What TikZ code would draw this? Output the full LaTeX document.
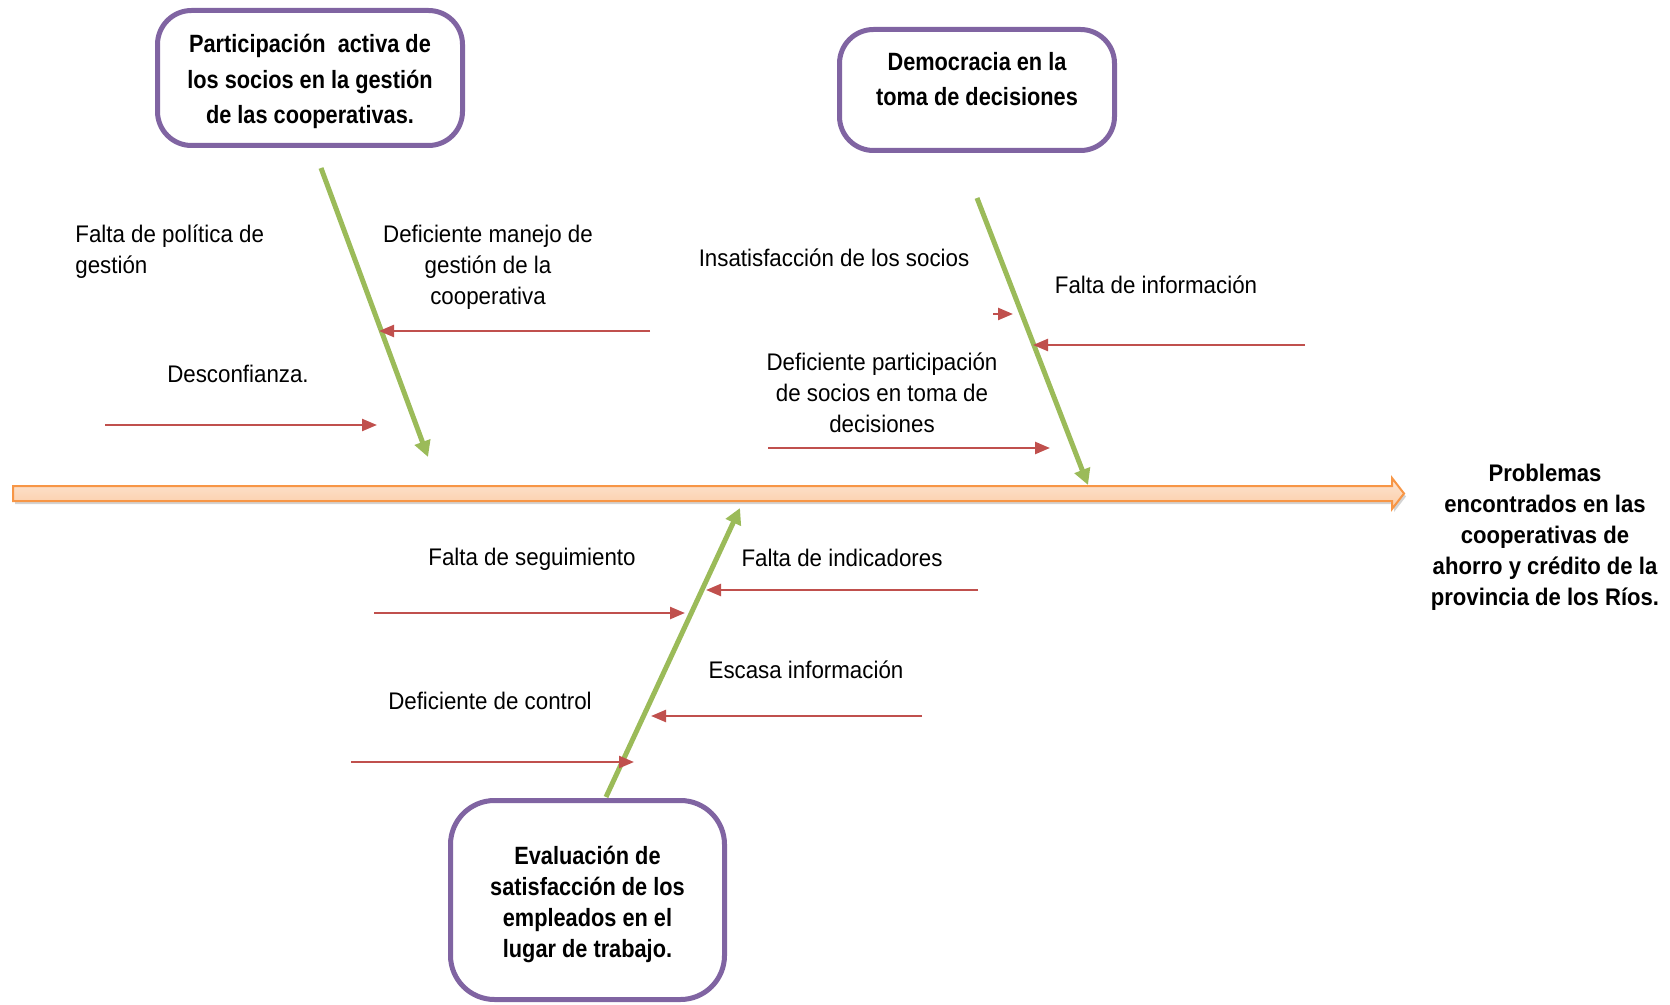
\documentclass[tikz,border=0pt]{standalone}
\usepackage{fontspec}
\setmainfont{Liberation Sans}
\newfontfamily\boxfont{Liberation Sans}[FakeStretch=0.87]
\newfontfamily\lblfont{Liberation Sans}[FakeStretch=0.93]
\newfontfamily\efffont{Liberation Sans}[FakeStretch=0.92]
\usetikzlibrary{arrows.meta,shadows}
\definecolor{bonegreen}{RGB}{155,187,89}
\definecolor{causered}{RGB}{192,80,77}
\definecolor{boxpurple}{RGB}{128,100,162}
\definecolor{spineorange}{RGB}{247,150,70}
\definecolor{spinetop}{RGB}{253,229,210}
\definecolor{spinebot}{RGB}{251,204,166}
\begin{document}
\begin{tikzpicture}[x=0.5pt,y=-0.5pt,
  catbox/.style={draw=boxpurple,line width=2.5pt,rounded corners=17pt,fill=white},
  cattext/.style={font=\boxfont\bfseries\fontsize{12.5}{17.75}\selectfont,align=center},
  cause/.style={font=\lblfont\fontsize{12}{15.5}\selectfont,align=center,inner sep=0pt},
  bone/.style={draw=bonegreen,line width=2.5pt,-{Triangle[length=8pt,width=8pt]}},
  arrowred/.style={draw=causered,line width=1.2pt,-{Triangle[length=7.5pt,width=6pt]}},
  spine/.style={draw=spineorange,line width=1pt,top color=spinetop,bottom color=spinebot,
    drop shadow={shadow xshift=1pt,shadow yshift=-1.5pt,opacity=0.35}}]
\useasboundingbox (0,0) rectangle (1670,1005);

\draw[spine] (13,486) -- (1392,486) -- (1392,478) -- (1404,493.5) -- (1392,509)
  -- (1392,501) -- (13,501) -- cycle;
\node[font=\efffont\bfseries\fontsize{12}{15.5}\selectfont,align=center] (efecto) at (1545,537)
  {Problemas\\encontrados en las\\cooperativas de\\ahorro y crédito de la\\provincia de los Ríos.};

\node[catbox,minimum width=152.5pt,minimum height=67.5pt] (partic) at (310,78) {};
\node[cattext] (partictxt) at (310,81.5)
  {Participación \ activa de\\los socios en la gestión\\de las cooperativas.};
\node[catbox,minimum width=137.5pt,minimum height=60.5pt] (democ) at (977,90) {};
\node[cattext] (democtxt) at (977,79) {Democracia en la\\toma de decisiones};
\node[catbox,rounded corners=22pt,minimum width=137pt,minimum height=99.5pt] (evalua) at (587.5,900) {};
\node[cattext,font=\boxfont\bfseries\fontsize{12.5}{15.5}\selectfont] (evaluatxt) at (587.5,904)
  {Evaluación de\\satisfacción de los\\empleados en el\\lugar de trabajo.};

\coordinate (b1s) at (321,168); \coordinate (b1e) at (428,457);
\coordinate (b2s) at (977,198); \coordinate (b2e) at (1088,485);
\coordinate (b3s) at (606,797); \coordinate (b3e) at (740,508);
\draw[bone] (b1s) -- (b1e);
\draw[bone] (b2s) -- (b2e);
\draw[bone] (b3s) -- (b3e);

\node[cause,anchor=west,align=left] (politica) at (75,252) {Falta de política de\\gestión};
\node[cause] (manejo) at (488,267) {Deficiente manejo de\\gestión de la\\cooperativa};
\node[cause] (desconf) at (238,374) {Desconfianza.};
\node[cause] (insatis) at (834,258) {Insatisfacción de los socios};
\node[cause] (faltainfo) at (1156,285) {Falta de información};
\node[cause] (particip) at (882,393) {Deficiente participación\\de socios en toma de\\decisiones};
\node[cause] (seguim) at (532,559) {Falta de seguimiento};
\node[cause] (indicad) at (842,558) {Falta de indicadores};
\node[cause] (escasa) at (806,670) {Escasa información};
\node[cause] (control) at (490,701) {Deficiente de control};

\coordinate (desA) at (105,425);  \coordinate (desB) at (377,425);
\coordinate (manA) at (650,331);  \coordinate (manB) at (379,331);
\coordinate (insA) at (993,314);  \coordinate (insB) at (1013,314);
\coordinate (infA) at (1305,345); \coordinate (infB) at (1033,345);
\coordinate (parA) at (768,448);  \coordinate (parB) at (1050,448);
\coordinate (segA) at (374,613);  \coordinate (segB) at (685,613);
\coordinate (indA) at (978,590);  \coordinate (indB) at (706,590);
\coordinate (escA) at (922,716);  \coordinate (escB) at (651,716);
\coordinate (conA) at (351,762);  \coordinate (conB) at (634,762);
\draw[arrowred] (desA) -- (desB);
\draw[arrowred] (manA) -- (manB);
\draw[arrowred] (insA) -- (insB);
\draw[arrowred] (infA) -- (infB);
\draw[arrowred] (parA) -- (parB);
\draw[arrowred] (segA) -- (segB);
\draw[arrowred] (indA) -- (indB);
\draw[arrowred] (escA) -- (escB);
\draw[arrowred] (conA) -- (conB);
\end{tikzpicture}
\end{document}
